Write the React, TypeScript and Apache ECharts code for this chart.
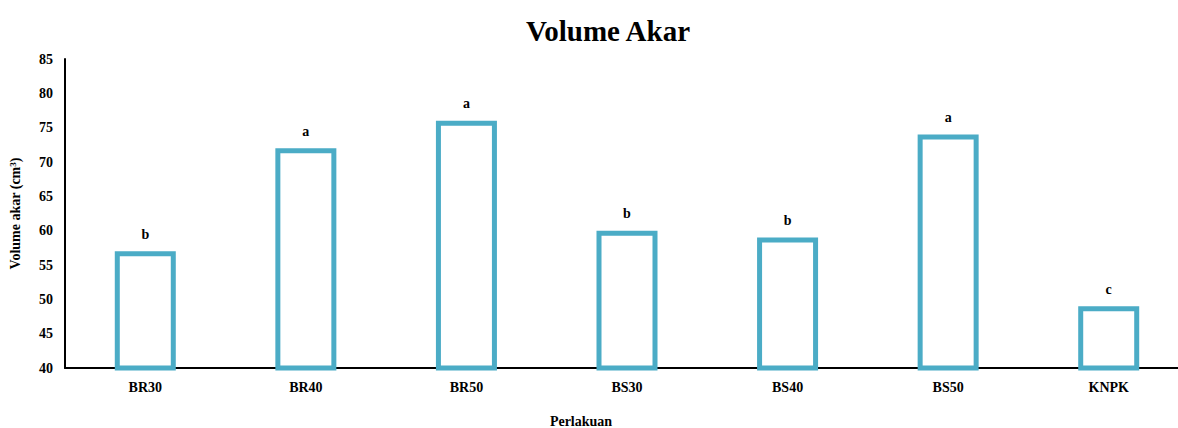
import React, { useEffect, useRef } from "react";
import * as echarts from "echarts";

const categories = ["BR30", "BR40", "BR50", "BS30", "BS40", "BS50", "KNPK"];
const values = [57, 72, 76, 60, 59, 74, 49];
const letters = ["b", "a", "a", "b", "b", "a", "c"];
const yTicks = { min: 40, max: 85, interval: 5 };

const FONT = "'Liberation Serif', 'Times New Roman', serif";

export default function App() {
  const ref = useRef<HTMLDivElement>(null);
  useEffect(() => {
    if (!ref.current) return;
    const chart = echarts.init(ref.current, null, { renderer: "svg" });
    chart.setOption({
      animation: false,
      backgroundColor: "#ffffff",
      title: {
        text: "Volume Akar",
        left: 603,
        textAlign: "center",
        top: 11,
        textStyle: { fontFamily: FONT, fontSize: 29, fontWeight: "bold", color: "#000" },
      },
      grid: { left: 64, top: 59, width: 1125, height: 309, containLabel: false },
      xAxis: {
        type: "category",
        data: categories,
        axisLine: { lineStyle: { color: "#000", width: 2 } },
        axisTick: { show: false },
        axisLabel: { fontFamily: FONT, fontSize: 14, fontWeight: "bold", color: "#000", margin: 12 },
      },
      yAxis: {
        type: "value",
        min: yTicks.min,
        max: yTicks.max,
        interval: yTicks.interval,
        splitLine: { show: false },
        axisLine: { show: true, lineStyle: { color: "#000", width: 2 } },
        axisTick: { show: false },
        axisLabel: { fontFamily: FONT, fontSize: 14, fontWeight: "bold", color: "#000", margin: 12 },
        name: "{a|Volume akar (cm}{s|3}{a|)}",
        nameLocation: "middle",
        nameGap: 42,
        nameRotate: 90,
        nameTextStyle: {
          rich: {
            a: { fontFamily: FONT, fontSize: 14, fontWeight: "bold", color: "#000" },
            s: { fontFamily: FONT, fontSize: 9, fontWeight: "bold", color: "#000", verticalAlign: "top", padding: [0, 0, 6, 0] },
          },
        },
      },
      series: [
        {
          type: "bar",
          data: values,
          barWidth: 61,
          itemStyle: { color: "#ffffff", borderColor: "#4BACC6", borderWidth: 5 },
          label: {
            show: true,
            position: "top",
            distance: 10,
            formatter: (p: any) => letters[p.dataIndex],
            fontFamily: FONT,
            fontSize: 14,
            fontWeight: "bold",
            color: "#000",
          },
        },
      ],
      graphic: [
        {
          type: "text",
          x: 581,
          y: 421,
          style: {
            text: "Perlakuan",
            fontFamily: FONT,
            fontSize: 14,
            fontWeight: "bold",
            fill: "#000",
            textAlign: "center",
            textVerticalAlign: "middle",
          },
        },
      ],
    });
    return () => chart.dispose();
  }, []);
  return (
    <div style={{ position: "absolute", left: 0, top: 0, width: 1178, height: 428, overflow: "hidden" }}>
      <div ref={ref} style={{ width: 1200, height: 428 }} />
    </div>
  );
}
